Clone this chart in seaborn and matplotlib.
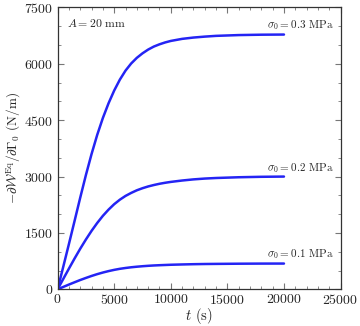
import pandas as pd
import matplotlib
matplotlib.use("Agg")
import matplotlib.pyplot as plt
import seaborn as sns
from matplotlib.ticker import MultipleLocator

# time points (s)
t = [0, 500, 1000, 1500, 2000, 2500, 3000, 3500, 4000, 4500, 5000, 5500, 6000,
     6500, 7000, 7500, 8000, 8500, 9000, 9500, 10000, 11000, 12000, 13000,
     14000, 16000, 18000, 20000]

# values (N/m)
s03 = [0, 600, 1205, 1820, 2440, 3040, 3600, 4110, 4560, 4950, 5290, 5580, 5820,
       6010, 6160, 6280, 6380, 6460, 6520, 6570, 6610, 6665, 6700, 6725,
       6745, 6766, 6776, 6780]
s02 = [0, 275, 550, 820, 1080, 1325, 1555, 1765, 1955, 2120, 2265, 2385, 2485,
       2565, 2635, 2690, 2737, 2775, 2808, 2835, 2858, 2895, 2925, 2947,
       2962, 2982, 2994, 3000]
s01 = [0, 63, 126, 187, 247, 302, 355, 403, 446, 484, 517, 545, 567,
       586, 601, 614, 625, 634, 641, 647, 653, 661, 668, 673,
       676, 681, 684, 685]

labels = [r"$\sigma_0 = 0.3$ MPa", r"$\sigma_0 = 0.2$ MPa", r"$\sigma_0 = 0.1$ MPa"]
label_y = [7020, 3240, 925]

df = pd.DataFrame({
    "t": t * 3,
    "val": s03 + s02 + s01,
    "case": [labels[0]] * len(t) + [labels[1]] * len(t) + [labels[2]] * len(t),
})

sns.set_style("ticks")
plt.rcParams["font.family"] = "serif"
plt.rcParams["font.serif"] = ["cmr10", "DejaVu Serif"]
plt.rcParams["mathtext.fontset"] = "cm"
plt.rcParams["axes.formatter.use_mathtext"] = True

fig = plt.figure(figsize=(3.6, 3.26), dpi=100)
ax = fig.add_axes([0.160, 0.1126, 0.786, 0.8644])

sns.lineplot(data=df, x="t", y="val", hue="case", palette=["#2424f4"] * 3,
             linewidth=1.8, legend=False, ax=ax)

ax.set_xlim(0, 25000)
ax.set_ylim(0, 7500)
ax.xaxis.set_major_locator(MultipleLocator(5000))
ax.xaxis.set_minor_locator(MultipleLocator(1000))
ax.yaxis.set_major_locator(MultipleLocator(1500))
ax.yaxis.set_minor_locator(MultipleLocator(500))
ax.tick_params(which="both", direction="in", top=True, right=True,
               color="#777777", labelsize=10)
ax.tick_params(which="major", length=4, width=0.8, pad=3)
ax.tick_params(which="minor", length=2, width=0.6)
for sp in ax.spines.values():
    sp.set_linewidth(0.9)
    sp.set_color("#333333")

ax.set_xlabel(r"$t$ (s)", fontsize=10.5, labelpad=-1)
ax.set_ylabel(r"$-\partial\mathcal{W}^{\rm Eq}/\partial\Gamma_0$ (N/m)",
              fontsize=9.5, labelpad=1)

for lab, y in zip(labels, label_y):
    ax.text(24400, y, lab, ha="right", va="center", fontsize=8)
ax.text(800, 7080, r"$A = 20$ mm", ha="left", va="center", fontsize=8.5)

fig.savefig("out.png", dpi=100)
